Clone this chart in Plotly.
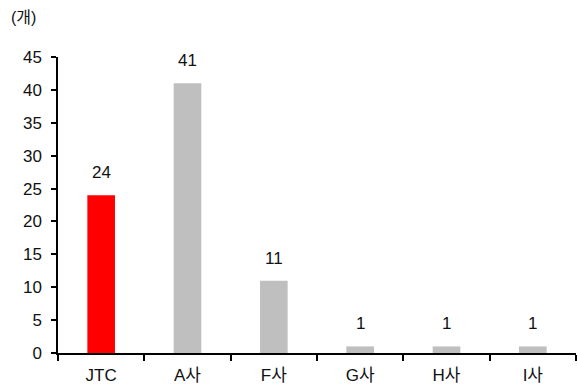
import plotly.graph_objects as go

categories = ["JTC", "A사", "F사", "G사", "H사", "I사"]
values = [24, 41, 11, 1, 1, 1]
colors = ["#FF0000", "#BFBFBF", "#BFBFBF", "#BFBFBF", "#BFBFBF", "#BFBFBF"]
y_ticks = [0, 5, 10, 15, 20, 25, 30, 35, 40, 45]
unit_label = "(개)"

FONT = "Liberation Sans, Arial, Noto Sans CJK KR, sans-serif"
FS = 17

fig = go.Figure()
fig.add_trace(go.Bar(
    x=categories, y=values, marker=dict(color=colors, line=dict(width=0)),
    width=0.32, showlegend=False,
))

for c, v in zip(categories, values):
    fig.add_annotation(x=c, y=v, text=str(v), showarrow=False, yanchor="bottom",
                       yshift=11, font=dict(size=FS, color="#111111", family=FONT))

fig.add_annotation(xref="paper", yref="paper", x=(9 - 58) / 518, y=1 + (57 - 18) / 296,
                   xanchor="left", yanchor="middle", text=unit_label, showarrow=False,
                   font=dict(size=16, color="#111111", family=FONT))

fig.update_layout(
    width=578, height=387,
    margin=dict(l=58, r=2, t=57, b=34),
    paper_bgcolor="white", plot_bgcolor="white",
    font=dict(family=FONT, size=FS, color="#111111"),
    bargap=0.68,
    xaxis=dict(
        type="category", showline=True, linecolor="black", linewidth=1.5,
        ticks="outside", tickson="boundaries", ticklen=6, tickcolor="black", tickwidth=1.5,
        showgrid=False, tickfont=dict(size=FS, family=FONT, color="#111111"),
        ticklabelstandoff=6, range=[-0.5, 5.5],
    ),
    yaxis=dict(
        range=[0, 45], tickvals=y_ticks, showline=True, linecolor="black", linewidth=1.5,
        ticks="outside", ticklen=5, tickcolor="black", tickwidth=1.5, showgrid=False,
        zeroline=False, tickfont=dict(size=FS, family=FONT, color="#111111"),
        ticklabelstandoff=6,
    ),
)

fig.write_html("out.html")
